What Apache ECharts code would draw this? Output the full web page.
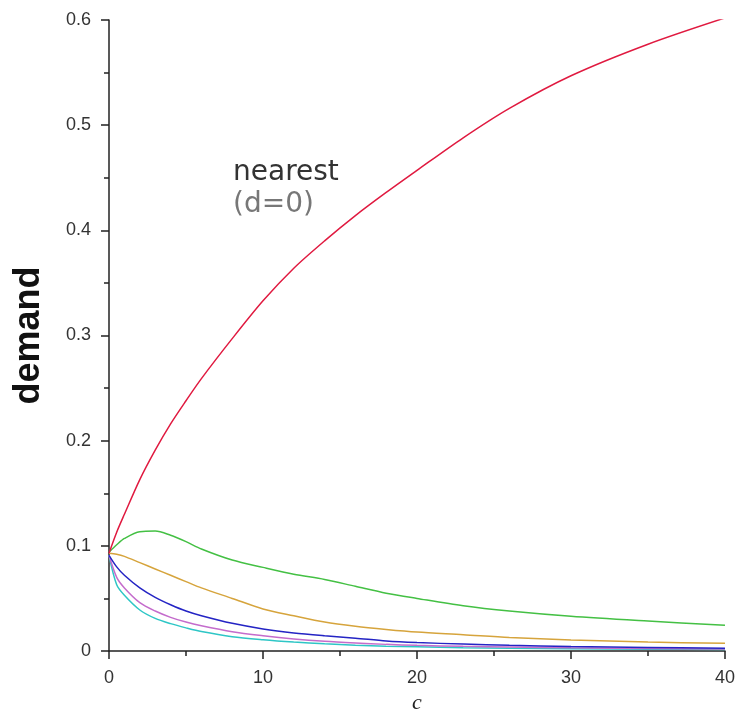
<!DOCTYPE html>
<html>
<head>
<meta charset="utf-8">
<script src="https://cdn.jsdelivr.net/npm/echarts@6/dist/echarts.min.js"></script>
<style>
html,body{margin:0;padding:0;background:#fff;}
#chart{width:738px;height:719px;}
</style>
</head>
<body>
<div id="chart"></div>
<script>
// c values (x positions)
const cValues = [0, 0.5, 1, 2, 3, 4, 5, 6, 8, 10, 12, 14, 16, 18, 20, 23, 26, 30, 35, 40];
// demand values for each curve
const redDemand     = [0.093, 0.113, 0.130, 0.163, 0.191, 0.216, 0.238, 0.259, 0.297, 0.333, 0.364, 0.390, 0.414, 0.436, 0.457, 0.488, 0.516, 0.547, 0.577, 0.602];
const greenDemand   = [0.094, 0.101, 0.107, 0.1135, 0.114, 0.110, 0.104, 0.097, 0.0865, 0.0795, 0.073, 0.068, 0.0615, 0.055, 0.050, 0.043, 0.038, 0.033, 0.0285, 0.0245];
const goldDemand    = [0.093, 0.092, 0.090, 0.084, 0.078, 0.072, 0.066, 0.060, 0.050, 0.040, 0.0335, 0.0275, 0.0235, 0.0205, 0.018, 0.0155, 0.0128, 0.0105, 0.0085, 0.0073];
const blueDemand    = [0.091, 0.080, 0.072, 0.060, 0.051, 0.044, 0.038, 0.0335, 0.0263, 0.021, 0.0172, 0.0145, 0.0122, 0.0095, 0.008, 0.0066, 0.0054, 0.0042, 0.0033, 0.0026];
const orchidDemand  = [0.091, 0.070, 0.060, 0.046, 0.038, 0.032, 0.0275, 0.024, 0.0184, 0.0146, 0.0115, 0.0092, 0.0076, 0.0063, 0.0054, 0.0044, 0.0037, 0.003, 0.0024, 0.002];
const cyanDemand    = [0.091, 0.063, 0.053, 0.039, 0.031, 0.026, 0.022, 0.0185, 0.0136, 0.0107, 0.0085, 0.0068, 0.0055, 0.0046, 0.004, 0.0032, 0.0027, 0.0021, 0.0017, 0.0014];

const seriesDefs = [
  {name: 'cyan',   values: cyanDemand,   color: '#2ec6c6'},
  {name: 'orchid', values: orchidDemand, color: '#c46ccc'},
  {name: 'blue',   values: blueDemand,   color: '#2424c4'},
  {name: 'gold',   values: goldDemand,   color: '#d6a43c'},
  {name: 'green',  values: greenDemand,  color: '#44c044'},
  {name: 'red',    values: redDemand,    color: '#e01a40'}
];

const chart = echarts.init(document.getElementById('chart'), null, {renderer: 'canvas'});

const option = {
  backgroundColor: '#ffffff',
  animation: false,
  grid: {left: 109, right: 10, top: 20, bottom: 68, containLabel: false},
  xAxis: {
    type: 'value', min: 0, max: 40, interval: 10,
    name: 'c', nameLocation: 'middle', nameGap: 41,
    nameTextStyle: {fontFamily: 'Liberation Serif', fontStyle: 'italic', fontSize: 22, color: '#222'},
    axisLine: {show: true, lineStyle: {color: '#222', width: 1.5}},
    axisTick: {show: true, length: 8, lineStyle: {color: '#222', width: 1.5}},
    minorTick: {show: true, splitNumber: 2, length: 5, lineStyle: {color: '#222', width: 1.5}},
    splitLine: {show: false},
    axisLabel: {margin: 18, fontFamily: 'Liberation Sans', fontSize: 18, color: '#333'}
  },
  yAxis: {
    type: 'value', min: 0, max: 0.6, interval: 0.1,
    name: 'demand', nameLocation: 'middle', nameGap: 62, nameRotate: 90,
    nameTextStyle: {fontFamily: 'Liberation Sans', fontWeight: 'bold', fontSize: 36, color: '#111'},
    axisLine: {show: true, lineStyle: {color: '#222', width: 1.5}},
    axisTick: {show: true, length: 8, lineStyle: {color: '#222', width: 1.5}},
    minorTick: {show: true, splitNumber: 2, length: 5, lineStyle: {color: '#222', width: 1.5}},
    splitLine: {show: false},
    axisLabel: {margin: 18, fontFamily: 'Liberation Sans', fontSize: 18, color: '#333'}
  },
  series: seriesDefs.map(s => ({
    type: 'line',
    name: s.name,
    data: cValues.map((c, i) => [c, s.values[i]]),
    showSymbol: false,
    smooth: 0.3,
    lineStyle: {color: s.color, width: 1.5},
    itemStyle: {color: s.color}
  })),
  graphic: [
    {type: 'text', left: 233, top: 159, style: {text: 'nearest', font: '28px "DejaVu Sans"', fill: '#333'}},
    {type: 'text', left: 233, top: 191, style: {text: '(d=0)', font: '28px "DejaVu Sans"', fill: '#777'}}
  ]
};
chart.setOption(option);
</script>
</body>
</html>
